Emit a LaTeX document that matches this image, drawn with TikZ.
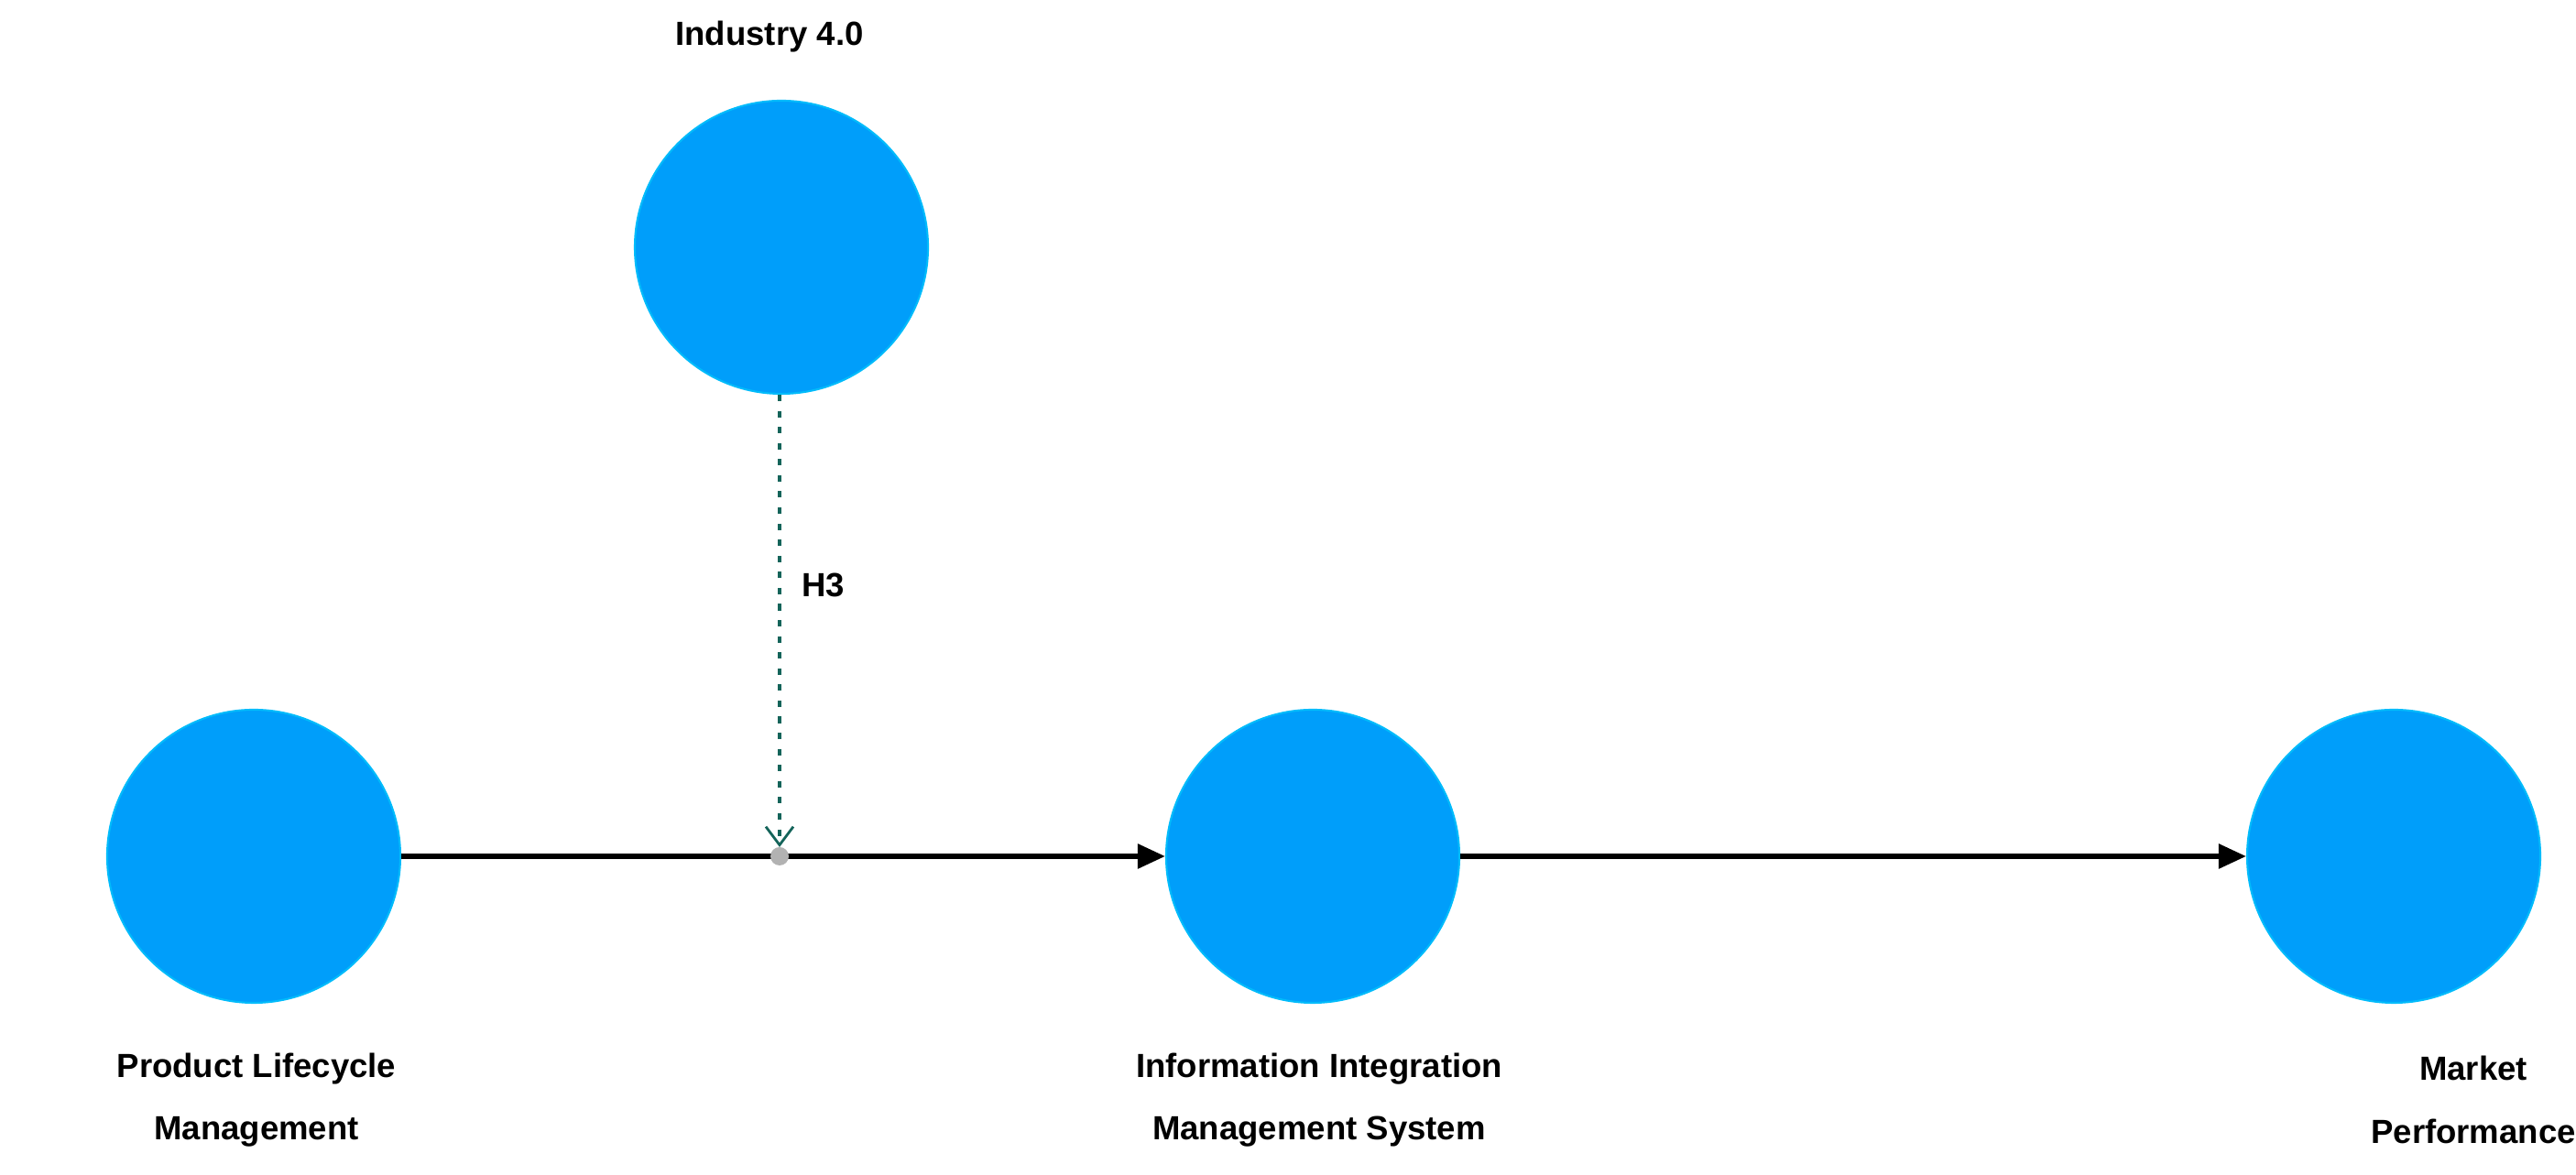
\documentclass[tikz,border=0pt]{standalone}
\usepackage{fontspec}
\setmainfont{Liberation Sans}
\usetikzlibrary{arrows.meta}
\definecolor{blob}{RGB}{0,158,250}
\definecolor{teal}{RGB}{20,100,90}
\begin{document}
\begin{tikzpicture}[
  lv/.style={circle,fill=blob,draw=blob!70!cyan,line width=0.6pt,minimum size=3.2cm,inner sep=0pt},
  lab/.style={font=\fontsize{10.4}{19.5}\selectfont\bfseries,align=center},
  arr/.style={line width=1.6pt,-{Triangle[length=0.3cm,width=0.26cm]}}]
\useasboundingbox (0,0) rectangle (28.12,12.83);
\node[lv] (ind) at (8.53,10.13) {};
\node[lv] (plm) at (2.77,3.48) {};
\node[lv] (iims) at (14.33,3.48) {};
\node[lv] (mp) at (26.13,3.48) {};
\node[lab] (tind) at (8.4,12.43) {Industry 4.0};
\node[lab] (tplm) at (2.8,0.82) {Product Lifecycle\\Management};
\node[lab] (tiims) at (14.4,0.82) {Information Integration\\Management System};
\node[lab] (tmp) at (27.0,0.82) {Market\\Performance};
\draw[arr] (plm) -- (iims);
\draw[arr] (iims) -- (mp);
\coordinate (j) at (8.51,3.48);
\fill[gray!60] (j) circle (0.1);
\draw[teal,line width=1.3pt,dash pattern=on 2pt off 3pt,-{Straight Barb[length=0.2cm,width=0.3cm,line width=0.8pt]}] (ind.south -| j) -- node[right=3pt,pos=0.42,black,lab]{H3} ([yshift=0.1cm]j);
\end{tikzpicture}
\end{document}
